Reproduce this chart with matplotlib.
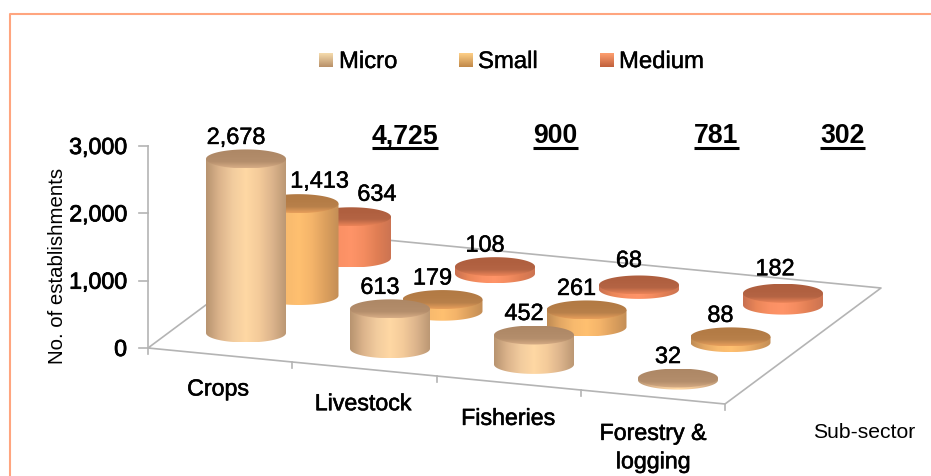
import numpy as np
import matplotlib
matplotlib.use("Agg")
import matplotlib.pyplot as plt
import matplotlib.patheffects as pe
from matplotlib.colors import LinearSegmentedColormap
from matplotlib.path import Path
from matplotlib.patches import PathPatch

plt.rcParams['font.family'] = ['Liberation Sans', 'DejaVu Sans']

# Data
categories = ['Crops', 'Livestock', 'Fisheries', 'Forestry &\nlogging']
series_names = ['Micro', 'Small', 'Medium']
micro = [2678, 613, 452, 32]
small = [1413, 179, 261, 88]
medium = [634, 108, 68, 182]
totals = ['4,725', '900', '781', '302']
y_ticks = [0, 1000, 2000, 3000]

# side gradient (edge to edge), top gradient (back to front)
side_colors = [['#b89470', '#dcb48c', '#f2cc9e', '#ffd8a4', '#f4cb9a', '#dcb48c', '#bc9874'],
               ['#c08c54', '#e4a864', '#f8ba6e', '#ffc070', '#f4b46a', '#dca05e', '#c48e56'],
               ['#c87050', '#ea8658', '#fa9064', '#ff9468', '#f48c60', '#e07e54', '#cc7452']]
top_colors = [['#ad8765', '#b08a68', '#b48e6c', '#d8ae86'],
              ['#b27a44', '#b47c46', '#b8804a', '#e8a05c'],
              ['#ae5e3e', '#b06040', '#b46444', '#ec8458']]
legend_colors = [['#b89068', '#f6dcae'], ['#c08848', '#ffd088'], ['#c0603c', '#ffa070']]

rx = 40
ry = 9.5
h_scale = 0.065
axis_scale = 202 / 3000


def base_xy(c, s):
    return 246 + 144 * c + 52.5 * s, 333 + 15.7 * c - 37.5 * s


def axis_y(v):
    return 348 - v * axis_scale


def heavy(width):
    return [pe.withStroke(linewidth=width, foreground='black')]


fig = plt.figure(figsize=(9.31, 4.76), dpi=100)
ax = fig.add_axes([0, 0, 1, 1])
ax.set_xlim(0, 931)
ax.set_ylim(476, 0)
ax.axis('off')
ax.autoscale(False)


def grad_image(colors, extent, clip, z, vertical=False):
    cmap = LinearSegmentedColormap.from_list('g', colors)
    g = np.linspace(0, 1, 128)
    g = g.reshape(-1, 1) if vertical else g.reshape(1, -1)
    im = ax.imshow(g, cmap=cmap, extent=extent, aspect='auto', zorder=z,
                   interpolation='bilinear', origin='upper')
    patch = PathPatch(clip, transform=ax.transData, fc='none', ec='none')
    ax.add_patch(patch)
    im.set_clip_path(patch)


def cylinder(cx, cy, h, side, top, z):
    t = np.linspace(0, np.pi, 60)
    yt = cy - h
    # lower arc of the base, then back along the top
    xs = np.r_[cx - rx * np.cos(t), cx + rx, cx - rx]
    ys = np.r_[cy + ry * np.sin(t), yt, yt]
    grad_image(side, (cx - rx, cx + rx, cy + ry, yt - ry), Path(np.c_[xs, ys]), z)
    t = np.linspace(0, 2 * np.pi, 120)
    top_path = Path(np.c_[cx + rx * np.cos(t), yt + ry * np.sin(t)])
    grad_image(top, (cx - rx, cx + rx, yt + ry, yt - ry), top_path, z + 0.1, vertical=True)


# Frame
ax.plot([9.5, 9.5, 931], [476, 13.5, 13.5], color='#ffa57f', lw=1.5, zorder=1)

# Floor and axes
grey = '#b4b4b4'
fl = np.array([[148, 348], [725, 404], [881, 288], [304, 232], [148, 348]])
ax.plot(fl[:, 0], fl[:, 1], color=grey, lw=1.2, zorder=2)
ax.plot([148, 148], [axis_y(3000), 348], color=grey, lw=1.2, zorder=2)
for v in y_ticks:
    y = axis_y(v)
    ax.plot([139, 148], [y, y], color=grey, lw=1.2, zorder=2)
    ax.text(127, y + 1.5, f'{v:,}', ha='right', va='center', fontsize=16.7,
            path_effects=heavy(0.6), zorder=20)
for c in range(5):
    x0 = 148 + 144.25 * c
    y0 = 348 + 14 * c
    ax.plot([x0, x0], [y0, y0 + 6], color=grey, lw=1.2, zorder=2)

# Cylinders, back series first
values = [micro, small, medium]
z = 3
for s in [2, 1, 0]:
    for c in range(len(categories)):
        cx, cy = base_xy(c, s)
        cylinder(cx, cy, values[s][c] * h_scale, side_colors[s], top_colors[s], z)
        z += 1

# Value labels
nudge = {(0, 0): (-10, 0), (1, 0): (21, -1), (2, 0): (26, -1), (2, 2): (-10, -3), (2, 3): (-8, -3)}
for s in range(3):
    for c in range(len(categories)):
        cx, cy = base_xy(c, s)
        dx, dy = nudge.get((s, c), (-10, 0))
        ax.text(cx + dx, cy - values[s][c] * h_scale - 21.5 + dy, f'{values[s][c]:,}',
                ha='center', va='center', fontsize=16.9, zorder=30, path_effects=heavy(0.35))

# Category labels
for c, name in enumerate(categories):
    y = 389 + 14.7 * c + (14.5 if '\n' in name else 0)
    ax.text(218 + 145 * c, y, name, ha='center', va='center', fontsize=16.7,
            linespacing=1.3, zorder=30, path_effects=heavy(0.4))

ax.text(864, 432, 'Sub-sector', ha='center', va='center', fontsize=15.2, zorder=30)
ax.text(58, 266, 'No. of establishments', rotation=90, ha='center', va='center',
        fontsize=14.7, zorder=30)

# Totals, underlined by hand
renderer = fig.canvas.get_renderer()
for x, label in zip([405, 555.5, 716.5, 842.5], totals):
    t = ax.text(x, 136, label, ha='center', va='center', fontsize=19.2,
                fontweight='bold', zorder=30)
    bb = t.get_window_extent(renderer).transformed(ax.transData.inverted())
    ax.plot([bb.x0, bb.x1], [148, 148], color='black', lw=2.2, solid_capstyle='butt', zorder=30)

# Legend
for i, (name, sx, tx) in enumerate(zip(series_names, [319, 459, 600], [339, 478, 619])):
    sq = Path([(sx, 53), (sx + 14, 53), (sx + 14, 67), (sx, 67), (sx, 53)])
    grad_image(legend_colors[i][::-1], (sx, sx + 14, 67, 53), sq, 30, vertical=True)
    ax.text(tx, 62, name, ha='left', va='center', fontsize=17.2, zorder=30,
            path_effects=heavy(0.3))

fig.savefig('out.png', dpi=100)
